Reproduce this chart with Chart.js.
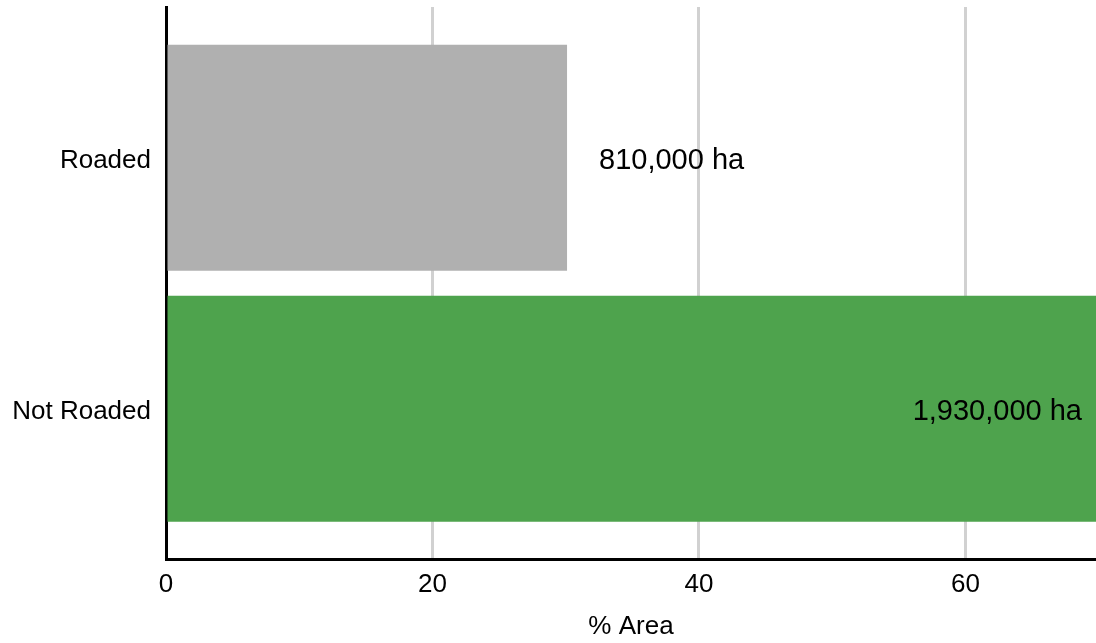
<!DOCTYPE html>
<html>
<head>
<meta charset="utf-8">
<script src="https://cdn.jsdelivr.net/npm/chart.js@4/dist/chart.umd.min.js"></script>
<style>
  html, body { margin: 0; padding: 0; background: #fff; }
  #wrap { width: 1096px; height: 643px; position: relative; }
</style>
</head>
<body>
<div id="wrap"><canvas id="chart"></canvas></div>
<script>
/* ── data ── */
const categories  = ['Roaded', 'Not Roaded'];
const pctArea     = [30.1, 69.9];
const areaLabels  = ['810,000 ha', '1,930,000 ha'];
const barColors   = ['#b0b0b0', '#4ea34d'];
const xTicks      = [0, 20, 40, 60];

const FONT = 'Liberation Sans, Arial, sans-serif';

/* value labels next to / inside the bars */
const valueLabels = {
    id: 'valueLabels',
    afterDatasetsDraw(chart) {
        const { ctx } = chart;
        const bars = chart.getDatasetMeta(0).data;
        ctx.save();
        ctx.font = `29px ${FONT}`;
        ctx.fillStyle = '#000';
        ctx.textBaseline = 'middle';
        bars.forEach((bar, i) => {
            const inside = bar.x > chart.chartArea.right - 200;
            ctx.textAlign = inside ? 'right' : 'left';
            const x = inside ? Math.min(bar.x, chart.chartArea.right) - 14 : bar.x + 32;
            ctx.fillText(areaLabels[i], x, bar.y + 3);
        });
        ctx.restore();
    }
};

new Chart(document.getElementById('chart').getContext('2d'), {
    type: 'bar',
    data: {
        datasets: [{
            data: pctArea.map((v, i) => ({ x: v, y: i })),
            backgroundColor: barColors,
            borderWidth: 0,
            categoryPercentage: 1,
            barPercentage: 0.9
        }]
    },
    options: {
        indexAxis: 'y',
        responsive: true,
        maintainAspectRatio: false,
        animation: false,
        layout: { padding: { top: 7, right: 0, left: 0, bottom: 0 } },
        plugins: { legend: { display: false }, tooltip: { enabled: false } },
        scales: {
            x: {
                type: 'linear',
                min: 0,
                max: 69.8,
                z: 1,
                afterBuildTicks: s => { s.ticks = xTicks.map(v => ({ value: v })); },
                afterFit: s => { s.height = 83.5; s.paddingLeft = 0; s.paddingRight = 0; },
                grid: { color: 'rgba(145,145,145,0.42)', lineWidth: 3, drawTicks: false },
                border: { color: '#000', width: 3 },
                ticks: { color: '#000', font: { family: FONT, size: 26 }, padding: 10 },
                title: { display: true, text: '% Area', color: '#000', font: { family: FONT, size: 26 }, padding: { top: 0, bottom: 1 } }
            },
            y: {
                type: 'linear',
                reverse: true,
                offset: false,
                bounds: 'data',
                min: -0.6,
                max: 1.6,
                afterBuildTicks: s => { s.ticks = categories.map((c, i) => ({ value: i })); },
                afterFit: s => { s.width = 166; s.paddingTop = 0; s.paddingBottom = 0; },
                grid: { display: false, offset: false },
                border: { color: '#000', width: 3 },
                ticks: { color: '#000', font: { family: FONT, size: 26 }, padding: 7, labelOffset: 3, callback: v => categories[v] }
            }
        }
    },
    plugins: [valueLabels]
});
</script>
</body>
</html>
